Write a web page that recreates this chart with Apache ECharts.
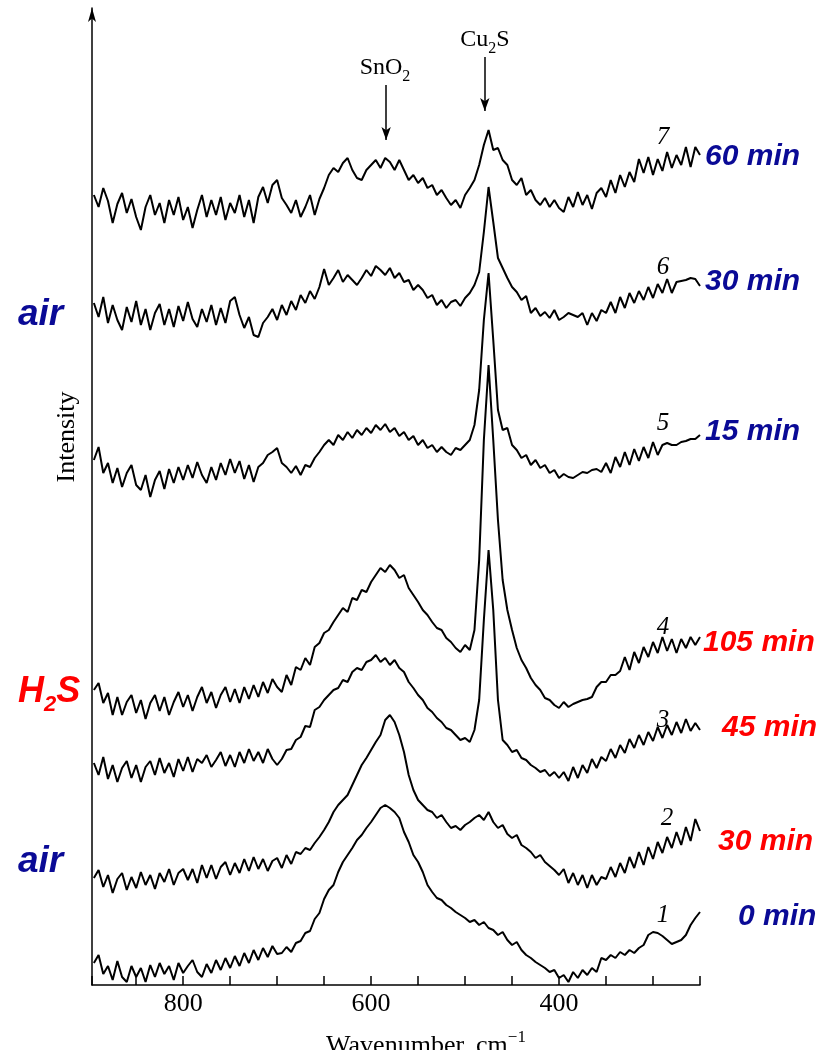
<!DOCTYPE html>
<html>
<head>
<meta charset="utf-8">
<title>Raman spectra, air / H2S</title>
<script src="https://cdn.jsdelivr.net/npm/echarts@6/dist/echarts.min.js"></script>
<style>
  html, body { margin: 0; padding: 0; background: #fff; }
  #chart { width: 833px; height: 1050px; }
</style>
</head>
<body>
<div id="chart"></div>
<script>
// wavenumber grid of the read-off points, cm-1
const wavenumbers = [895,890,885,880,875,870,865,860,855,850,845,840,835,830,825,820,815,810,805,800,
  795,790,785,780,775,770,765,760,755,750,745,740,735,730,725,720,715,710,705,700,
  695,690,685,680,675,670,665,660,655,650,645,640,635,630,625,620,615,610,605,600,
  595,590,585,580,575,570,565,560,555,550,545,540,535,530,525,520,515,510,505,500,
  495,490,485,480,475,470,465,460,455,450,445,440,435,430,425,420,415,410,405,400,
  395,390,385,380,375,370,365,360,355,350,345,340,335,330,325,320,315,310,305,300,
  295,290,285,280,275,270,265,260,255,250];

// intensity (arb. units, curves already stacked with their offsets)
// 1: air, 0 min
const curve1 = [22,30,11,19,5,24,8,3,19,8, 17,3,20,8,22,11,19,5,22,12,
  19,25,13,8,21,12,25,15,27,17, 29,19,32,22,35,25,37,28,39,31,
  32,38,33,42,44,52,54,66,72,86, 95,100,113,123,130,137,145,150,157,163,
  170,177,180,177,173,167,153,143,130,123, 113,100,93,87,85,80,77,73,70,67,
  63,65,60,63,57,55,50,53,45,40, 43,35,30,27,23,20,17,13,15,7,
  10,3,13,7,15,10,17,13,27,25, 30,27,33,30,35,32,37,40,50,53,
  52,49,45,41,43,45,50,60,67,73];
// 2: H2S, 30 min
const curve2 = [107,115,98,110,92,106,112,95,108,97, 113,100,110,96,112,103,116,100,112,116,
  105,116,102,120,107,120,106,118,123,110, 122,112,126,114,128,116,126,114,124,127,
  117,130,121,133,131,137,135,142,148,155, 163,173,180,185,190,200,210,220,227,235,
  243,250,265,270,263,250,233,210,195,185, 180,175,173,167,170,163,157,159,155,160,
  163,167,170,165,173,163,157,160,151,147, 150,140,137,133,127,130,123,119,115,110,
  116,102,112,100,110,97,110,100,108,106, 118,108,122,112,128,117,133,120,138,126,
  143,132,148,137,153,140,158,144,166,154];
// 3: H2S, 45 min
const curve3 = [222,210,228,206,220,203,217,224,207,220, 203,218,224,210,227,212,222,208,226,214,
  228,213,226,222,230,218,225,233,219,230, 218,233,222,236,224,233,222,236,226,220,
  226,235,236,245,248,259,258,275,278,285, 290,295,297,305,303,313,317,315,323,325,
  330,323,327,320,325,317,313,303,297,290, 285,277,273,267,263,257,255,250,245,247,
  243,255,285,365,435,375,285,245,240,233, 235,227,225,220,217,213,215,209,213,207,
  213,204,218,207,220,212,226,217,228,224, 236,227,240,232,246,237,250,240,253,244,
  258,247,260,250,263,252,266,254,262,255];
// 4: H2S, 105 min
const curve4 = [295,302,282,292,270,288,270,283,290,272, 285,266,282,290,274,288,270,283,293,278,
  290,274,288,298,282,293,277,290,298,283, 296,282,298,286,300,288,303,292,306,298,
  293,310,300,318,315,327,320,338,342,352, 355,363,370,377,373,387,385,395,393,403,
  410,417,413,420,415,407,410,397,390,383, 375,370,363,357,355,347,343,337,333,340,
  335,355,425,545,620,545,465,405,375,355, 337,325,317,307,300,295,287,285,280,277,
  283,278,281,283,285,286,288,298,303,303, 310,310,314,328,315,333,322,338,328,343,
  332,348,334,346,332,346,337,348,340,348];
// 5: air, 15 min
const curve5 = [525,538,512,522,502,517,498,512,520,500, 495,510,488,505,514,496,516,502,518,505,
  520,507,523,510,502,518,505,522,510,526, 512,524,506,520,503,518,522,530,533,537,
  522,518,512,519,510,520,518,527,533,540, 545,540,550,545,553,547,555,550,557,552,
  560,555,561,553,557,549,553,545,549,540, 545,537,540,533,538,533,530,537,535,540,
  545,560,595,665,712,645,575,555,557,540, 535,527,530,520,525,517,520,512,515,507,
  511,508,507,510,513,512,515,516,513,522, 512,528,518,533,520,536,524,538,527,543,
  530,540,542,540,540,543,544,546,546,550];
// 6: air, 30 min
const curve6 = [682,668,688,662,680,665,655,678,663,684, 660,676,655,672,681,660,676,658,679,664,
  683,666,658,676,663,680,660,677,662,684, 688,670,657,668,650,648,662,668,676,665,
  680,670,684,675,690,682,694,686,698,716, 700,707,715,703,710,705,700,707,715,709,
  719,715,710,717,707,712,703,705,695,700, 695,687,690,680,685,677,683,685,679,687,
  692,700,713,753,798,763,727,717,707,698, 693,685,689,672,677,669,673,667,675,665,
  668,672,670,668,672,660,672,664,675,672, 683,672,688,677,692,682,694,685,698,687,
  701,692,706,692,703,704,705,707,706,699];
// 7: air, 60 min
const curve7 = [790,778,797,784,762,781,792,772,786,768, 755,778,790,770,782,762,785,770,788,765,
  778,757,775,790,768,785,770,788,765,782, 772,790,768,785,762,788,798,782,800,805,
  787,780,772,785,768,778,790,770,786,797, 810,817,813,822,827,815,807,805,815,820,
  825,817,827,823,815,825,815,805,810,802, 807,797,800,790,795,787,780,785,777,790,
  797,805,820,840,855,835,837,825,820,805, 800,807,790,795,785,780,787,778,785,777,
  773,788,778,793,780,790,776,792,797,788, 805,792,810,798,813,803,826,812,828,810,
  826,814,833,817,830,820,838,818,838,830];

const tickLabels = [800, 600, 400];
const curveNumbers = ['1', '2', '3', '4', '5', '6', '7'];
const timeLabels = ['0 min', '30 min', '45 min', '105 min', '15 min', '30 min', '60 min'];
const atmosphere = ['air', 'H2S', 'H2S', 'H2S', 'air', 'air', 'air'];
// peak positions marked by arrows, cm-1
const snO2Peak = 584;
const cu2SPeak = 479;

const BLUE = '#0a0a96';
const RED = '#ff0000';
const curves = [curve1, curve2, curve3, curve4, curve5, curve6, curve7];

// label placement (px)
const numberPos = [[663, 915], [667, 818], [663, 720], [663, 627], [663, 423], [663, 267], [663, 137]];
const timePos = [[738, 917], [718, 842], [722, 728], [703, 643], [705, 432], [705, 282], [705, 157]];

const chart = echarts.init(document.getElementById('chart'), null, { renderer: 'canvas' });

const series = curves.map((c, i) => ({
  name: curveNumbers[i],
  type: 'line',
  data: wavenumbers.map((w, j) => [w, c[j]]),
  showSymbol: false,
  symbol: 'none',
  lineStyle: { color: '#000', width: 2 },
  z: 3
}));

// arrows for SnO2 and Cu2S
series[6].markLine = {
  silent: true,
  symbol: ['none', 'arrow'],
  symbolSize: [7, 13],
  label: { show: false },
  lineStyle: { color: '#000', width: 1.5, type: 'solid' },
  data: [
    [{ coord: [snO2Peak, 900] }, { coord: [snO2Peak, 845] }],
    [{ coord: [cu2SPeak, 928] }, { coord: [cu2SPeak, 874] }]
  ]
};

const graphics = [];
curveNumbers.forEach((n, i) => {
  graphics.push({
    type: 'text', x: numberPos[i][0], y: numberPos[i][1],
    style: { text: n, font: 'italic 25px "Liberation Serif"', fill: '#000', align: 'center', verticalAlign: 'middle' }
  });
  graphics.push({
    type: 'text', x: timePos[i][0], y: timePos[i][1],
    style: {
      text: timeLabels[i], font: 'italic bold 30px "Liberation Sans"',
      fill: atmosphere[i] === 'air' ? BLUE : RED, align: 'left', verticalAlign: 'middle'
    }
  });
});

const gasFont = { fontStyle: 'italic', fontWeight: 'bold', fontFamily: 'Liberation Sans' };
graphics.push(
  { type: 'text', x: 18, y: 315, style: { text: 'air', font: 'italic bold 37px "Liberation Sans"', fill: BLUE, verticalAlign: 'middle' } },
  { type: 'text', x: 18, y: 862, style: { text: 'air', font: 'italic bold 37px "Liberation Sans"', fill: BLUE, verticalAlign: 'middle' } },
  {
    type: 'text', x: 18, y: 692,
    style: {
      text: '{a|H}{b|2}{a|S}', verticalAlign: 'middle',
      rich: {
        a: Object.assign({ fontSize: 36, fill: RED, lineHeight: 48 }, gasFont),
        b: Object.assign({ fontSize: 22, fill: RED, lineHeight: 48, verticalAlign: 'bottom' }, gasFont)
      }
    }
  },
  {
    type: 'text', x: 385, y: 68,
    style: {
      text: '{a|SnO}{b|2}', align: 'center', verticalAlign: 'middle',
      rich: {
        a: { fontSize: 24, fontFamily: 'Liberation Serif', fill: '#000', lineHeight: 34 },
        b: { fontSize: 16, fontFamily: 'Liberation Serif', fill: '#000', lineHeight: 34, verticalAlign: 'bottom' }
      }
    }
  },
  {
    type: 'text', x: 485, y: 40,
    style: {
      text: '{a|Cu}{b|2}{a|S}', align: 'center', verticalAlign: 'middle',
      rich: {
        a: { fontSize: 24, fontFamily: 'Liberation Serif', fill: '#000', lineHeight: 34 },
        b: { fontSize: 16, fontFamily: 'Liberation Serif', fill: '#000', lineHeight: 34, verticalAlign: 'bottom' }
      }
    }
  },
  {
    type: 'text', x: 67, y: 437, rotation: Math.PI / 2,
    style: { text: 'Intensity', font: '26px "Liberation Serif"', fill: '#000', align: 'center', verticalAlign: 'middle' }
  },
  {
    type: 'text', x: 426, y: 1046,
    style: {
      text: '{a|Wavenumber, cm}{s|\u22121}', align: 'center', verticalAlign: 'middle',
      rich: {
        a: { fontSize: 26, fontFamily: 'Liberation Serif', fill: '#000', lineHeight: 34 },
        s: { fontSize: 17, fontFamily: 'Liberation Serif', fill: '#000', lineHeight: 34, verticalAlign: 'top' }
      }
    }
  }
);

chart.setOption({
  animation: false,
  backgroundColor: '#fff',
  grid: { left: 92, right: 133, top: 8, bottom: 65, containLabel: false, outerBoundsMode: 'none' },
  xAxis: {
    type: 'value',
    inverse: true,
    min: 250,
    max: 897,
    interval: 50,
    axisLine: { show: true, onZero: false, lineStyle: { color: '#000', width: 1.5 } },
    axisTick: { show: true, inside: true, length: 9, lineStyle: { color: '#000', width: 1.5 } },
    axisLabel: {
      show: true, margin: 6, color: '#000', fontFamily: 'Liberation Serif', fontSize: 26,
      formatter: v => (tickLabels.indexOf(v) >= 0 ? String(v) : '')
    },
    splitLine: { show: false }
  },
  yAxis: {
    type: 'value',
    min: 0,
    max: 977,
    axisLine: { show: true, onZero: false, symbol: ['none', 'arrow'], symbolSize: [6, 14], lineStyle: { color: '#000', width: 1.5 } },
    axisTick: { show: false },
    axisLabel: { show: false },
    splitLine: { show: false }
  },
  graphic: graphics,
  series: series
});
</script>
</body>
</html>
